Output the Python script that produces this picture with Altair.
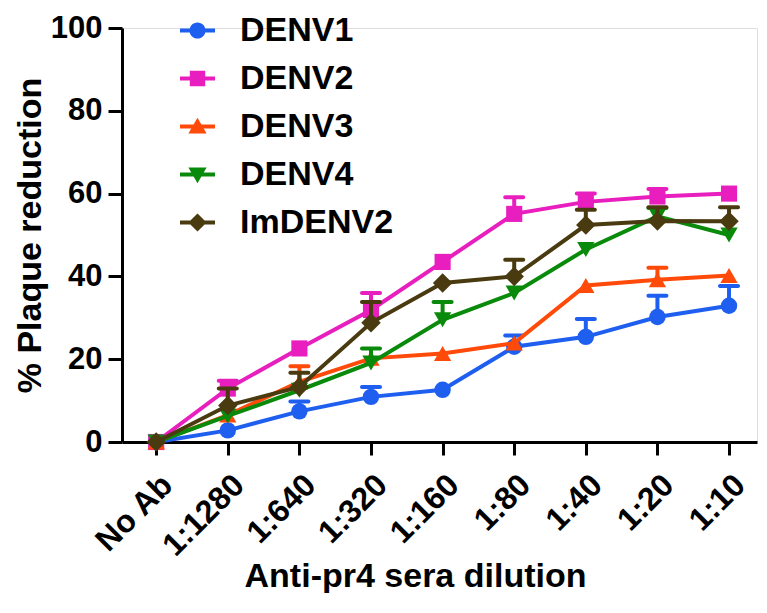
import altair as alt
import pandas as pd

categories = ["No Ab", "1:1280", "1:640", "1:320", "1:160", "1:80", "1:40", "1:20", "1:10"]
series = ["DENV1", "DENV2", "DENV3", "DENV4", "ImDENV2"]
colors = ["#1F5FF0", "#E81EBE", "#FF4A0A", "#0A8A0A", "#4A3A10"]
shapes = ["circle", "square", "triangle-up", "triangle-down", "diamond"]
marker_sizes = [270, 260, 300, 300, 380]

# mean % plaque reduction per dilution
denv1 = [0, 2.8, 7.4, 10.9, 12.6, 23.0, 25.4, 30.2, 32.9]
denv2 = [0, 12.9, 22.6, 31.9, 43.5, 55.1, 58.0, 59.3, 60.0]
denv3 = [0, 6.5, 14.5, 20.2, 21.4, 23.9, 37.8, 39.2, 40.2]
denv4 = [0, 6.3, 12.5, 19.1, 29.5, 36.0, 46.5, 54.5, 50.0]
imdenv2 = [0, 8.8, 13.3, 28.8, 38.4, 40.0, 52.4, 53.4, 53.3]

# upper error (SEM)
err1 = [0, 0, 2.4, 2.4, 0, 2.7, 4.3, 5.1, 4.8]
err2 = [0, 1.9, 0, 4.1, 0, 4.0, 2.0, 1.8, 0]
err3 = [0, 0, 3.8, 0, 0, 0, 0, 2.9, 0]
err4 = [0, 0, 0, 3.5, 4.3, 0, 0, 2.0, 0]
err5 = [0, 4.1, 3.4, 5.0, 0, 4.0, 3.7, 3.3, 3.4]

means = [denv1, denv2, denv3, denv4, imdenv2]
errs = [err1, err2, err3, err4, err5]

rows = []
for s, m, e in zip(series, means, errs):
    for c, v, ev in zip(categories, m, e):
        rows.append({"series": s, "dilution": c, "value": v, "err": ev, "upper": v + ev})
df = pd.DataFrame(rows)

# legend symbols: a short line with the marker on it (unit coords)
line_part = "M-1,-0.11H1V0.11H-1Z "
legend_paths = [
    line_part + "M-0.46,0A0.46,0.46,0,1,1,0.46,0A0.46,0.46,0,1,1,-0.46,0Z",
    line_part + "M-0.44,-0.44H0.44V0.44H-0.44Z",
    line_part + "M0,-0.5L0.52,0.4L-0.52,0.4Z",
    line_part + "M-0.52,-0.4L0.52,-0.4L0,0.5Z",
    line_part + "M0,-0.52L0.52,0L0,0.52L-0.52,0Z",
]

FONT = "Liberation Sans"

x_axis = alt.Axis(
    title="Anti-pr4 sera dilution", titleFont=FONT, titleFontSize=34, titleFontWeight="bold",
    titleColor="black", titleX=293, titleY=144, titleBaseline="alphabetic",
    labelFont=FONT, labelFontSize=32, labelFontWeight="bold", labelColor="black",
    labelAngle=-45, labelPadding=14, labelOverlap=False,
    domainColor="black", domainWidth=3, tickColor="black", tickWidth=3, tickSize=13,
    grid=False,
)
y_axis = alt.Axis(
    title="% Plaque reduction", titleFont=FONT, titleFontSize=34, titleFontWeight="bold",
    titleColor="black", titleX=-82, titleBaseline="alphabetic",
    labelFont=FONT, labelFontSize=31, labelFontWeight="bold", labelColor="black",
    labelPadding=6, labelFlush=False, labelOverlap=False,
    values=[0, 20, 40, 60, 80, 100],
    domainColor="black", domainWidth=3, tickColor="black", tickWidth=3, tickSize=14,
    grid=False,
)
x_enc = alt.X("dilution:N", sort=categories,
              scale=alt.Scale(type="point", domain=categories, padding=0.434, align=0.55),
              axis=x_axis)
y_scale = alt.Scale(domain=[0, 100], nice=False, zero=True)

layers = []
for s, c, sh, ms in zip(series, colors, shapes, marker_sizes):
    base = alt.Chart(df).transform_filter(alt.datum.series == s)
    eb = base.transform_filter("datum.err > 0")
    layers.append(eb.mark_rule(color=c, strokeWidth=4).encode(
        x=x_enc, y=alt.Y("value:Q", scale=y_scale, axis=y_axis), y2="upper:Q"))
    layers.append(eb.mark_tick(color=c, thickness=4, size=22, opacity=1, cornerRadius=2).encode(
        x=x_enc, y=alt.Y("upper:Q", scale=y_scale, axis=y_axis)))
    layers.append(base.mark_line(color=c, strokeWidth=4).encode(
        x=x_enc, y=alt.Y("value:Q", scale=y_scale, axis=y_axis)))
    layers.append(base.mark_point(shape=sh, filled=True, size=ms, opacity=1, color=c).encode(
        x=x_enc, y=alt.Y("value:Q", scale=y_scale, axis=y_axis)))

leg = alt.Legend(
    title=None, orient="none", legendX=58, legendY=-15,
    labelFont=FONT, labelFontSize=34, labelFontWeight="bold", labelColor="black",
    symbolSize=1225, symbolStrokeWidth=0, labelOffset=25, rowPadding=13,
    symbolOpacity=1,
)
legend_layer = alt.Chart(df).transform_filter("false").mark_point(
    filled=True, opacity=1, size=1225
).encode(
    color=alt.Color("series:N", scale=alt.Scale(domain=series, range=colors), legend=leg),
    shape=alt.Shape("series:N", scale=alt.Scale(domain=series, range=legend_paths), legend=leg),
)
layers.append(legend_layer)

chart = alt.layer(*layers).properties(
    width=635, height=414,
    autosize=alt.AutoSizeParams(type="none"),
    padding={"left": 114, "top": 20, "right": 2, "bottom": 151},
).configure_view(stroke=None).configure(background="white")

chart.save("out.html", embed_options={"renderer": "svg", "actions": False})
